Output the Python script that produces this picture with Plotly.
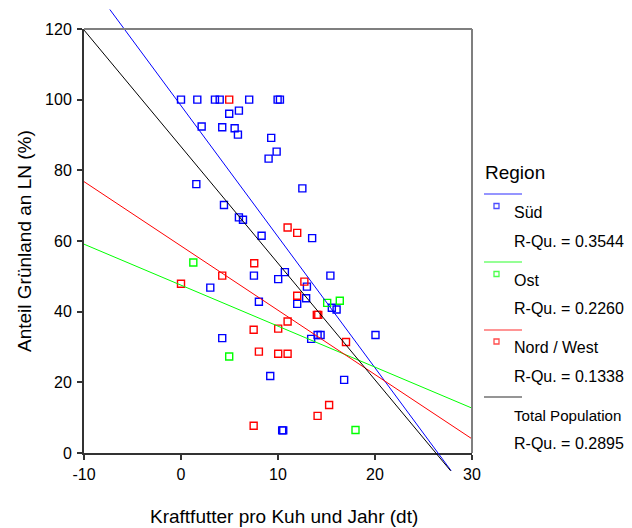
import numpy as np
import plotly.graph_objects as go

# ---------------- data ----------------
sued_x = [0.0, 1.68, 3.5, 3.99, 7.03, 9.96, 10.2, 5.97, 4.97, 2.13, 4.25, 5.53, 5.87,
          9.3, 9.86, 9.03, 1.58, 12.51, 4.43, 5.97, 6.39, 8.31, 13.52, 7.52, 10.71,
          10.02, 15.4, 12.98, 12.9, 11.98, 8.03, 15.55, 16.04, 3.02, 4.25, 13.42,
          14.08, 14.39, 20.05, 9.2, 16.82, 10.43, 10.54]
sued_y = [100, 100, 100, 100, 100, 100, 100, 96.9, 96.0, 92.4, 92.2, 91.9, 90.1,
          89.2, 85.3, 83.3, 76.1, 74.9, 70.2, 66.7, 66.0, 61.5, 60.8, 50.2, 51.2,
          49.2, 50.2, 47.1, 43.8, 42.2, 42.8, 41.1, 40.6, 46.8, 32.5, 32.3,
          33.4, 33.4, 33.4, 21.8, 20.7, 6.4, 6.4]

ost_x = [1.27, 15.07, 16.37, 4.97, 17.99]
ost_y = [53.9, 42.5, 43.1, 27.3, 6.5]

nw_x = [4.97, 7.55, 4.25, 0.0, 10.99, 11.98, 12.72, 11.98, 14.0, 14.15, 10.99,
        7.49, 10.02, 17.01, 8.03, 10.02, 10.99, 15.27, 14.08, 7.49]
nw_y = [100, 53.7, 50.2, 47.9, 63.8, 62.3, 48.5, 44.5, 39.1, 39.1, 37.2,
        34.9, 35.2, 31.4, 28.7, 28.1, 28.1, 13.6, 10.5, 7.7]

# linear fit lines as shown in the chart: Süd, Ost, Nord / West, Total
fit_intercepts = [98.3, 47.5, 58.6, 86.7]
fit_slopes = [-3.71, -1.16, -1.82, -3.30]

region_names = ["Süd", "Ost", "Nord / West"]
r2_labels = ["R-Qu. = 0.3544", "R-Qu. = 0.2260", "R-Qu. = 0.1338", "R-Qu. = 0.2895"]
total_label = "Total Population"
legend_title = "Region"
x_title = "Kraftfutter pro Kuh und Jahr (dt)"
y_title = "Anteil Grünland an LN (%)"
x_ticks = [-10, 0, 10, 20, 30]
x_tick_labels = ["-10", "0", "10", "20", "30"]
y_ticks = [0, 20, 40, 60, 80, 100, 120]

# ---------------- styles / layout constants ----------------
BLUE, GREEN, RED, BLACK = "#0000ff", "#00ff00", "#ff0000", "#000000"
FONT = "Liberation Sans, Arial, sans-serif"
W, H = 632, 528
OFF = 8                      # page body margin offset of the figure
FRAME_L, FRAME_R = 84 - OFF, 472 - OFF
FRAME_TOP, FRAME_BOTTOM = 29 - OFF, 453 - OFF
L, R, T, B = FRAME_L, W - FRAME_R, 0, 40
X_RANGE = [x_ticks[0], x_ticks[-1]]
Y_RANGE = [y_ticks[0], y_ticks[-1]]
LINE_Y_RANGE = [-5, 125.5]   # fit lines are clipped a little outside the frame

plot_h = H - T - B
def py(p):  # reference pixel row -> paper y
    return (H - B - (p - OFF)) / plot_h
def px(p):  # reference pixel column -> paper x
    return ((p - OFF) - L) / (W - L - R)
def fy(p):  # figure pixel row -> paper y
    return (H - B - p) / plot_h

s = (FRAME_BOTTOM - FRAME_TOP) / (Y_RANGE[1] - Y_RANGE[0])
y_dom = [fy(FRAME_BOTTOM), fy(FRAME_TOP)]
y2_dom = [fy(FRAME_BOTTOM + (Y_RANGE[0] - LINE_Y_RANGE[0]) * s),
          fy(FRAME_TOP - (LINE_Y_RANGE[1] - Y_RANGE[1]) * s)]

fig = go.Figure()

groups = [(sued_x, sued_y, BLUE), (ost_x, ost_y, GREEN), (nw_x, nw_y, RED)]
for gx, gy, col in groups:
    fig.add_trace(go.Scatter(x=gx, y=gy, mode="markers", xaxis="x", yaxis="y",
                             marker=dict(symbol="square-open", size=7, color=col,
                                         line=dict(width=1.4, color=col)),
                             showlegend=False, hoverinfo="skip"))

xs = np.array(X_RANGE, dtype=float)
for a, b, col in zip(fit_intercepts, fit_slopes, [BLUE, GREEN, RED, BLACK]):
    fig.add_trace(go.Scatter(x=xs, y=a + b * xs, mode="lines", xaxis="x2", yaxis="y2",
                             line=dict(color=col, width=1), showlegend=False,
                             hoverinfo="skip"))

axis_font = dict(family=FONT, size=16, color="#000")
fig.update_layout(
    width=W, height=H, margin=dict(l=L, r=R, t=T, b=B, autoexpand=False),
    paper_bgcolor="white", plot_bgcolor="rgba(0,0,0,0)",
    font=dict(family=FONT, color="#000"),
    showlegend=False,
    xaxis=dict(range=X_RANGE, domain=[0, 1], anchor="y", tickvals=x_ticks,
               ticktext=x_tick_labels,
               ticks="outside", ticklen=5, tickwidth=1.5, tickcolor="#333",
               showline=True, linecolor="#333", linewidth=2, showgrid=False,
               zeroline=False, tickfont=axis_font, ticklabelstandoff=1,
               automargin=False),
    yaxis=dict(range=Y_RANGE, domain=y_dom, anchor="x", tickvals=y_ticks,
               ticks="outside", ticklen=5, tickwidth=1.5, tickcolor="#333",
               showline=True, linecolor="#333", linewidth=2, showgrid=False,
               zeroline=False, tickfont=axis_font, ticklabelstandoff=2,
               automargin=False),
    xaxis2=dict(range=X_RANGE, domain=[0, 1], anchor="y2", visible=False,
                automargin=False),
    yaxis2=dict(range=LINE_Y_RANGE, domain=y2_dom, anchor="x2", visible=False,
                automargin=False),
)

shapes = [
    dict(type="line", xref="x domain", yref="y domain", x0=0, x1=1, y0=1, y1=1,
         line=dict(color="#7f7f7f", width=2)),
    dict(type="line", xref="x domain", yref="y domain", x0=1, x1=1, y0=0, y1=1,
         line=dict(color="#7f7f7f", width=2)),
]
annotations = [
    dict(text=x_title, xref="paper", yref="paper", x=px(284), y=py(517),
         xanchor="center", yanchor="middle", showarrow=False,
         font=dict(family=FONT, size=19, color="#000")),
    dict(text=y_title, xref="paper", yref="paper", x=px(25), y=py(241),
         xanchor="center", yanchor="middle", showarrow=False, textangle=-90,
         font=dict(family=FONT, size=19, color="#000")),
    dict(text=legend_title, xref="paper", yref="paper", x=px(483), y=py(172),
         xanchor="left", yanchor="middle", showarrow=False,
         font=dict(family=FONT, size=19, color="#000")),
]

# manual legend (SPSS style)
legend_rows = [
    (BLUE, region_names[0], r2_labels[0], 194, 212, 241.5, 16),
    (GREEN, region_names[1], r2_labels[1], 262, 280, 308.5, 16),
    (RED, region_names[2], r2_labels[2], 330, 347.5, 376, 16),
    (BLACK, total_label, r2_labels[3], 397, 415.5, 443.5, 15.1),
]
for col, name, r2, ly, ny, ry, nsize in legend_rows:
    shapes.append(dict(type="line", xref="paper", yref="paper", x0=px(484), x1=px(522),
                       y0=py(ly), y1=py(ly), line=dict(color=col, width=1.5),
                       opacity=0.55))
    if col != BLACK:
        shapes.append(dict(type="rect", xref="paper", yref="paper", x0=px(494), x1=px(499),
                           y0=py(ny - 3.5), y1=py(ny - 8.5),
                           line=dict(color=col, width=1.3), fillcolor="rgba(0,0,0,0)",
                           opacity=0.7))
    annotations.append(dict(text=name, xref="paper", yref="paper", x=px(512), y=py(ny),
                            xanchor="left", yanchor="middle", showarrow=False,
                            font=dict(family=FONT, size=nsize, color="#000")))
    annotations.append(dict(text=r2, xref="paper", yref="paper", x=px(512), y=py(ry),
                            xanchor="left", yanchor="middle", showarrow=False,
                            font=dict(family=FONT, size=16, color="#000")))

fig.update_layout(shapes=shapes, annotations=annotations)
fig.write_html(
    "out.html",
    post_script="document.documentElement.style.overflow='hidden';"
                "document.body.style.overflow='hidden';",
)
